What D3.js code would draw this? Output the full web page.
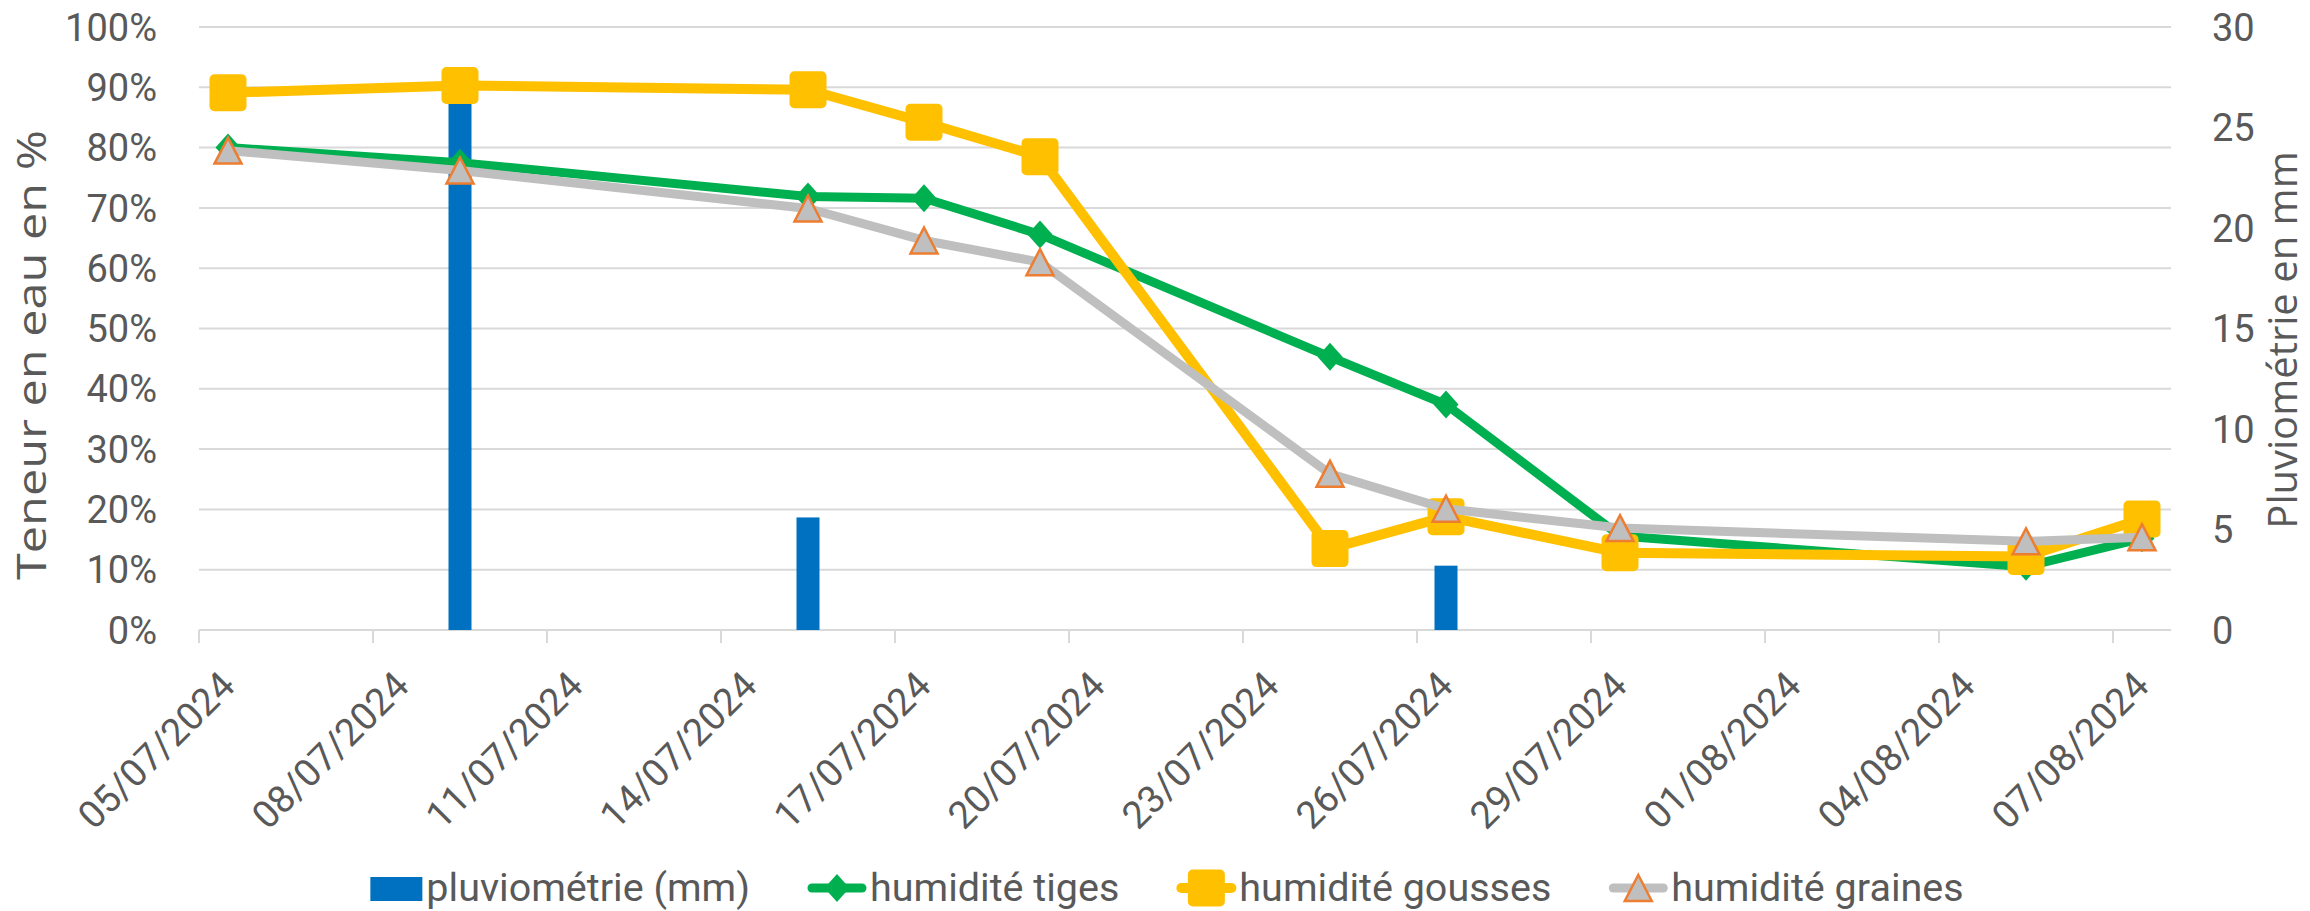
<!DOCTYPE html>
<html>
	<head>
		<meta charset="utf-8">
		<script src="https://cdn.jsdelivr.net/npm/d3@7"></script>
		<style>
			body { margin: 0; background: #fff; }
			text { fill: #595959; }
		</style>
	</head>
	<body>
		<script type="text/javascript">
			// sampling dates (humidity) and measured values, in %
			var dates = ["2024-07-05", "2024-07-09", "2024-07-15", "2024-07-17", "2024-07-19",
				"2024-07-24", "2024-07-26", "2024-07-29", "2024-08-05", "2024-08-07"];
			var tiges = [80.0, 77.5, 71.9, 71.6, 65.6, 45.3, 37.4, 15.6, 10.5, 15.2];
			var gousses = [89.1, 90.3, 89.6, 84.2, 78.5, 13.5, 18.8, 12.8, 12.2, 18.4];
			var graines = [79.5, 76.2, 69.9, 64.6, 61.0, 25.9, 20.1, 16.9, 14.7, 15.4];

			// rainfall in mm
			var rainDates = ["2024-07-09", "2024-07-15", "2024-07-26"];
			var rain = [27, 5.6, 3.2];

			var leftTicks = [0, 10, 20, 30, 40, 50, 60, 70, 80, 90, 100];
			var rightTicks = [0, 5, 10, 15, 20, 25, 30];
			var xStart = "2024-07-05", xEnd = "2024-08-08";

			var W = 2310, H = 911;
			var plot = {left: 199, right: 2171, top: 27, bottom: 630};
			var parse = d3.timeParse("%Y-%m-%d");
			var fmt = d3.timeFormat("%d/%m/%Y");
			var tickFont = "Roboto, 'Noto Sans', sans-serif";
			var titleFont = "'Open Sans', 'Noto Sans', sans-serif";

			var svg = d3.select("body").append("svg")
				.attr("width", W)
				.attr("height", H);

			var x = d3.scaleTime()
				.domain([parse(xStart), parse(xEnd)])
				.range([plot.left, plot.right]);
			// Excel puts each day in the middle of its slot
			function xMid(d) { return x(d3.timeHour.offset(parse(d), 12)); }

			var yL = d3.scaleLinear().domain([0, 100]).range([plot.bottom, plot.top]);
			var yR = d3.scaleLinear().domain([0, 30]).range([plot.bottom, plot.top]);

			// gridlines
			svg.append("g").selectAll("line")
				.data(leftTicks)
				.enter().append("line")
					.attr("x1", plot.left)
					.attr("x2", plot.right)
					.attr("y1", function (d) { return yL(d); })
					.attr("y2", function (d) { return yL(d); })
					.attr("stroke", "#d9d9d9")
					.attr("stroke-width", 2);

			// x ticks every 3 days
			var xTicks = d3.timeDay.range(parse(xStart), parse(xEnd), 3);
			svg.append("g").selectAll("line")
				.data(xTicks)
				.enter().append("line")
					.attr("x1", function (d) { return x(d); })
					.attr("x2", function (d) { return x(d); })
					.attr("y1", plot.bottom)
					.attr("y2", plot.bottom + 13)
					.attr("stroke", "#d9d9d9")
					.attr("stroke-width", 2);

			svg.append("g").selectAll("text")
				.data(xTicks)
				.enter().append("text")
					.attr("transform", function (d) {
						return "translate(" + (x(d3.timeHour.offset(d, 12)) + 9) + "," + 688 + ") rotate(-45)";
					})
					.attr("text-anchor", "end")
					.style("font-family", tickFont)
					.style("font-size", "38px")
					.text(function (d) { return fmt(d); });

			// left axis labels
			svg.append("g").selectAll("text")
				.data(leftTicks)
				.enter().append("text")
					.attr("x", 157)
					.attr("y", function (d) { return yL(d); })
					.attr("dy", "0.36em")
					.attr("text-anchor", "end")
					.style("font-family", tickFont)
					.style("font-size", "38px")
					.text(function (d) { return d + "%"; });

			// right axis labels
			svg.append("g").selectAll("text")
				.data(rightTicks)
				.enter().append("text")
					.attr("x", 2212)
					.attr("y", function (d) { return yR(d); })
					.attr("dy", "0.36em")
					.style("font-family", tickFont)
					.style("font-size", "38px")
					.text(function (d) { return d; });

			// axis titles
			svg.append("text")
				.attr("transform", "translate(46,355) rotate(-90)")
				.attr("text-anchor", "middle")
				.attr("textLength", 450)
				.attr("lengthAdjust", "spacingAndGlyphs")
				.style("font-family", titleFont)
				.style("font-size", "40px")
				.text("Teneur en eau en %");
			svg.append("text")
				.attr("transform", "translate(2297,340) rotate(-90)")
				.attr("text-anchor", "middle")
				.style("font-family", titleFont)
				.style("font-size", "40px")
				.text("Pluviométrie en mm");

			// rainfall bars
			var barW = 23;
			svg.append("g").selectAll("rect")
				.data(rain)
				.enter().append("rect")
					.attr("x", function (d, i) { return xMid(rainDates[i]) - barW / 2; })
					.attr("y", function (d) { return yR(d); })
					.attr("width", barW)
					.attr("height", function (d) { return yR(0) - yR(d); })
					.attr("fill", "#0070c0");

			// marker shapes
			function drawDiamond(g) {
				g.append("path").attr("d", "M0,-14L12.5,0L0,14L-12.5,0Z")
					.attr("fill", "#00b050");
			}
			function drawSquare(g) {
				g.append("rect").attr("x", -18.5).attr("y", -18.5)
					.attr("width", 37).attr("height", 37)
					.attr("rx", 5)
					.attr("fill", "#ffc000");
			}
			function drawTriangle(g) {
				g.append("path").attr("d", "M0,-13L13.5,13L-13.5,13Z")
					.attr("fill", "#bfbfbf")
					.attr("stroke", "#ed7d31")
					.attr("stroke-width", 2.5)
					.attr("stroke-linejoin", "miter");
			}

			var series = [
				{name: "humidité tiges", values: tiges, color: "#00b050", width: 9, marker: drawDiamond},
				{name: "humidité gousses", values: gousses, color: "#ffc000", width: 10, marker: drawSquare},
				{name: "humidité graines", values: graines, color: "#bfbfbf", width: 9, marker: drawTriangle}
			];

			var line = d3.line()
				.x(function (d, i) { return xMid(dates[i]); })
				.y(function (d) { return yL(d); });

			series.forEach(function (s) {
				var g = svg.append("g");
				g.append("path")
					.attr("d", line(s.values))
					.attr("fill", "none")
					.attr("stroke", s.color)
					.attr("stroke-width", s.width)
					.attr("stroke-linejoin", "round");
				s.values.forEach(function (v, i) {
					var m = g.append("g")
						.attr("transform", "translate(" + xMid(dates[i]) + "," + yL(v) + ")");
					s.marker(m);
				});
			});

			// legend
			var legY = 888;
			var gap = 58;
			var leg = svg.append("g");
			var items = [{name: "pluviométrie (mm)", bar: true}].concat(series);
			var widths = [];
			var tmp = items.map(function (it) {
				var t = leg.append("text")
					.attr("y", legY)
					.attr("dy", "0.32em")
					.style("font-family", tickFont)
					.style("font-size", "39.5px")
					.text(it.name);
				widths.push(t.node().getComputedTextLength());
				return t;
			});
			var keyW = items.map(function (it) { return it.bar ? 52 : 58; });
			var total = d3.sum(widths) + d3.sum(keyW) + items.length * 4 + (items.length - 1) * gap;
			var cx = 1167 - total / 2;
			items.forEach(function (it, i) {
				if (it.bar) {
					leg.append("rect")
						.attr("x", cx).attr("y", legY - 11)
						.attr("width", 52).attr("height", 24)
						.attr("fill", "#0070c0");
				} else {
					leg.append("line")
						.attr("x1", cx + 4).attr("x2", cx + keyW[i] - 4)
						.attr("y1", legY).attr("y2", legY)
						.attr("stroke", it.color)
						.attr("stroke-width", it.width)
						.attr("stroke-linecap", "round");
					it.marker(leg.append("g")
						.attr("transform", "translate(" + (cx + keyW[i] / 2) + "," + legY + ")"));
				}
				tmp[i].attr("x", cx + keyW[i] + 4);
				tmp[i].raise();
				cx += keyW[i] + 4 + widths[i] + gap;
			});
		</script>
	</body>
</html>
